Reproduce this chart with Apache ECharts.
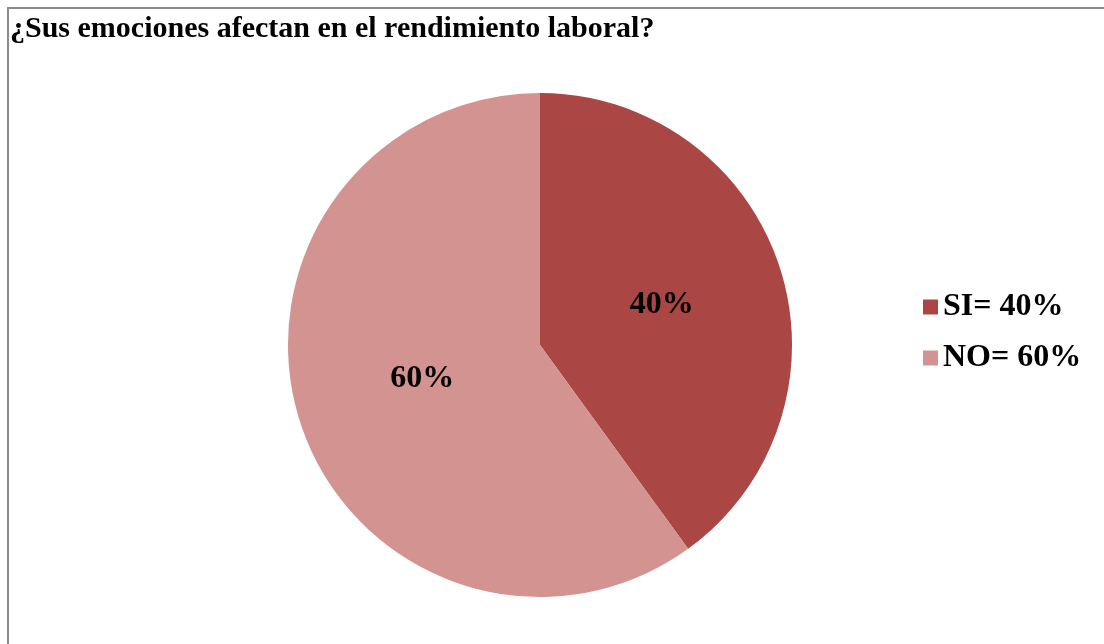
<!DOCTYPE html>
<html>
<head>
<meta charset="utf-8">
<script src="https://cdn.jsdelivr.net/npm/echarts@6/dist/echarts.min.js"></script>
<style>
html,body{margin:0;padding:0;background:#fff;}
#chart{width:1104px;height:644px;}
</style>
</head>
<body>
<div id="chart"></div>
<script>
const titleText = '¿Sus emociones afectan en el rendimiento laboral?';
const categories = ['SI', 'NO'];
const values = [40, 60];
const colors = ['#AA4643', '#D29391'];

const chart = echarts.init(document.getElementById('chart'));
const font = '"Liberation Serif", "Times New Roman", serif';
const labelOffsets = [[-1, 0], [5, -6]];
chart.setOption({
  animation: false,
  backgroundColor: '#ffffff',
  title: {
    text: titleText,
    left: 5,
    top: 9,
    textStyle: { fontFamily: font, fontWeight: 'bold', fontSize: 30, color: '#000' }
  },
  legend: {
    orient: 'vertical',
    left: 918,
    top: 284,
    icon: 'rect',
    itemWidth: 15,
    itemHeight: 15,
    itemGap: 15,
    data: categories,
    formatter: function (name) {
      const i = categories.indexOf(name);
      return name + '= ' + values[i] + '%';
    },
    textStyle: { fontFamily: font, fontWeight: 'bold', fontSize: 32, color: '#000', lineHeight: 36 }
  },
  graphic: [{
    type: 'polyline',
    shape: { points: [[8, 644], [8, 8], [1104, 8]] },
    style: { stroke: '#8a8a8a', lineWidth: 2, fill: null },
    silent: true
  }],
  series: [{
    type: 'pie',
    center: [540, 345],
    radius: [0, 252],
    startAngle: 90,
    clockwise: true,
    data: categories.map((c, i) => ({
      name: c, value: values[i],
      itemStyle: { color: colors[i] },
      label: { offset: labelOffsets[i] }
    })),
    label: {
      show: true,
      position: 'inside',
      formatter: function (p) { return p.value + '%'; },
      fontFamily: font,
      fontWeight: 'bold',
      fontSize: 32,
      color: '#000'
    },
    labelLine: { show: false },
    itemStyle: { borderWidth: 0 },
    emphasis: { disabled: true }
  }]
});
</script>
</body>
</html>
